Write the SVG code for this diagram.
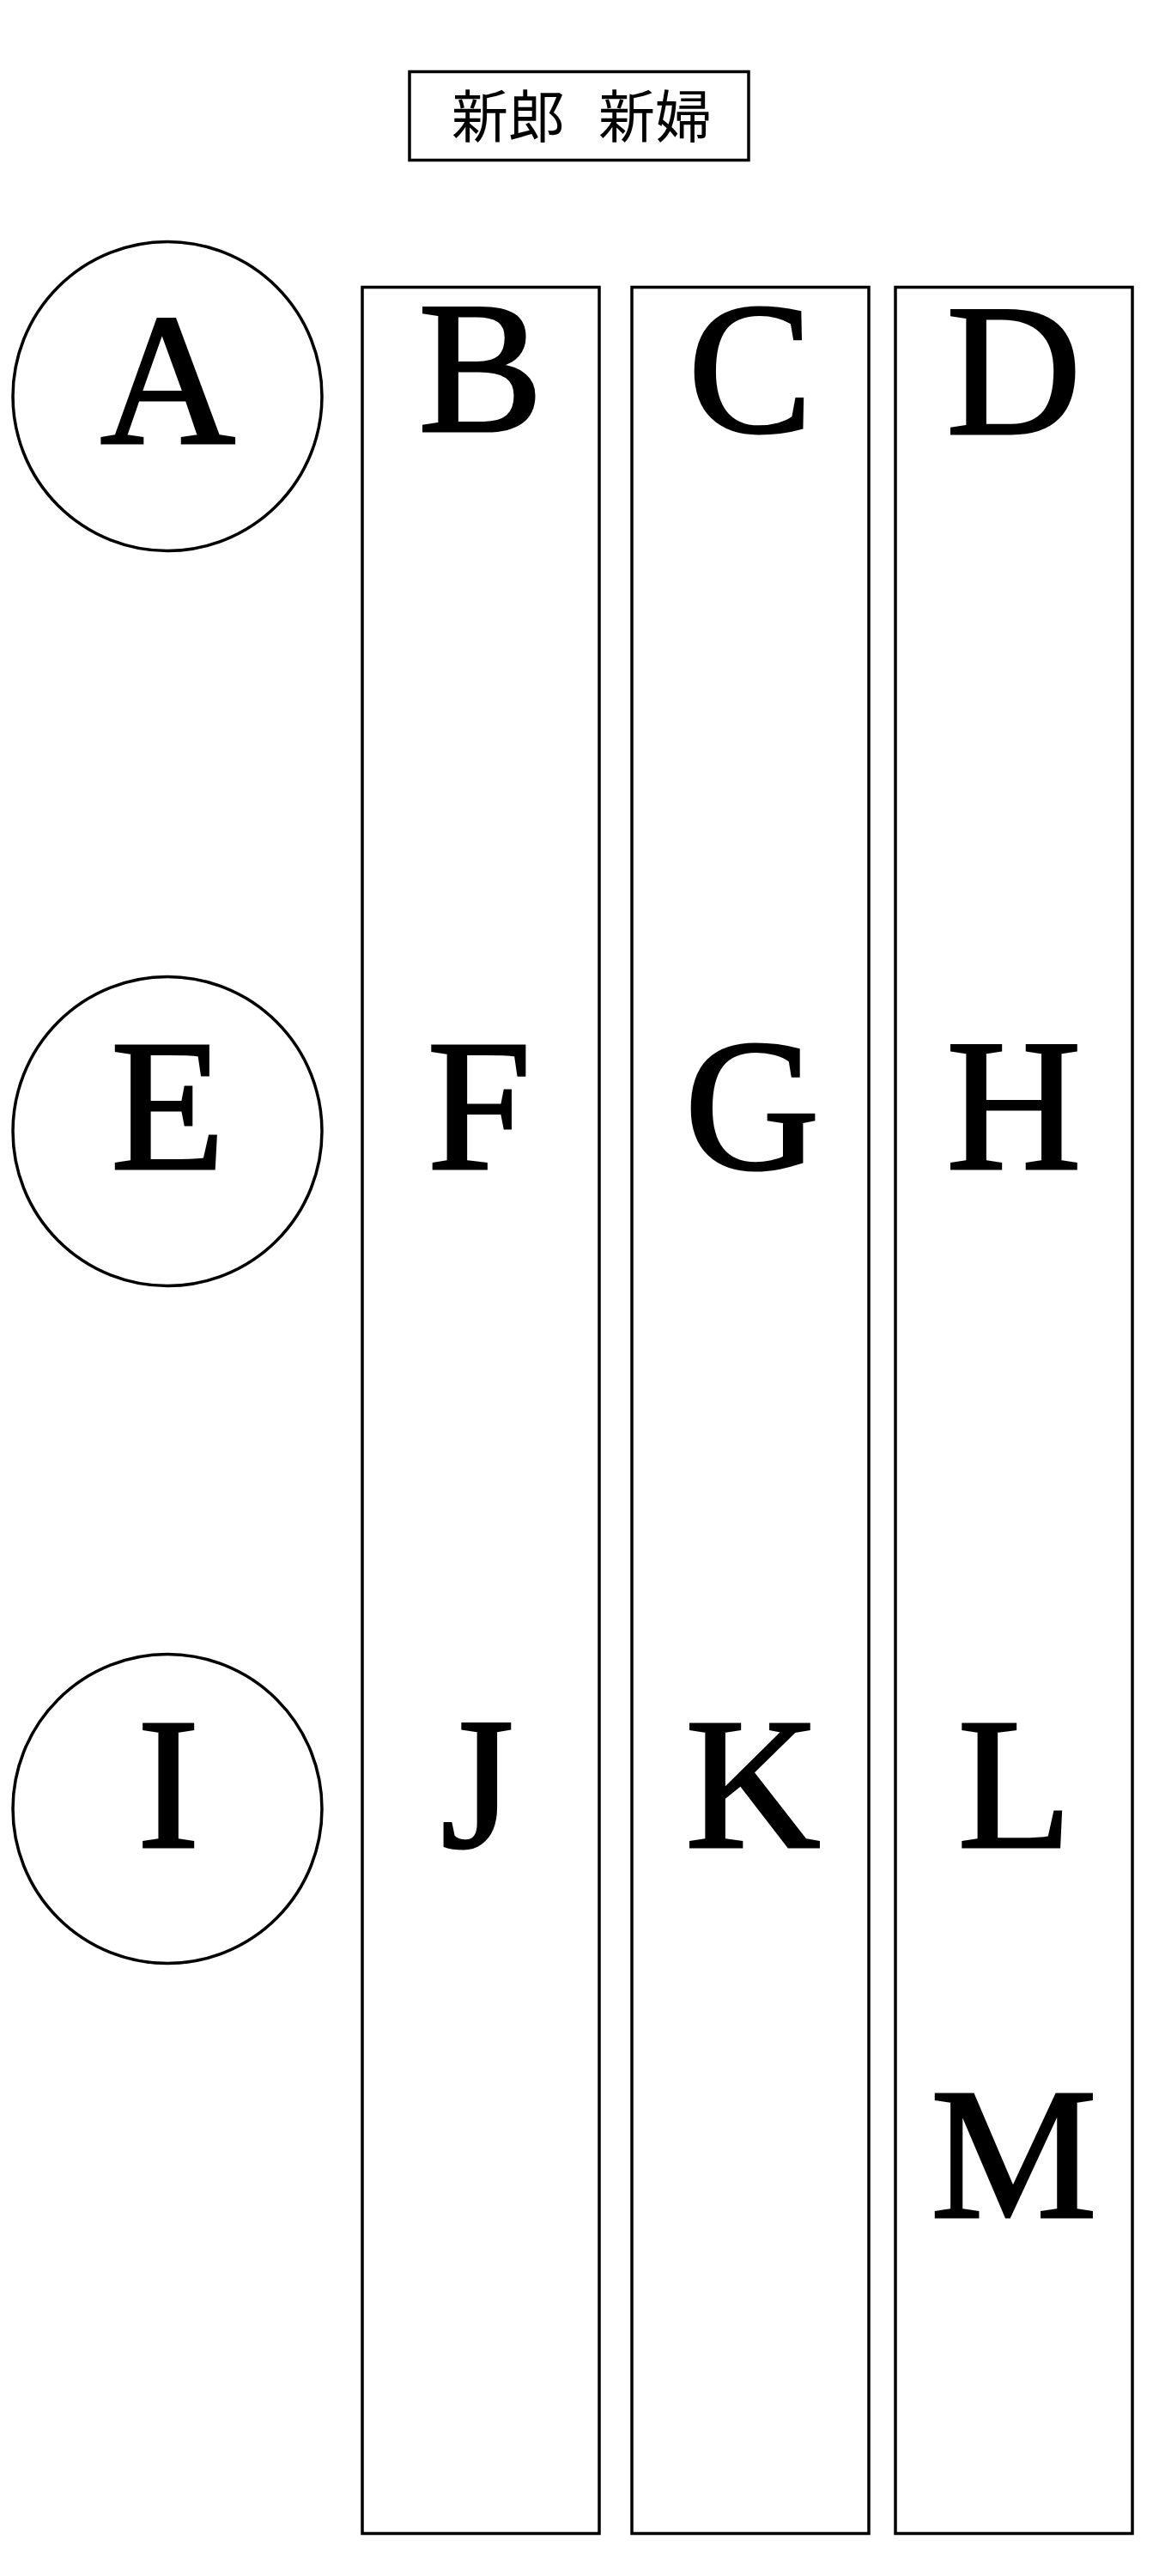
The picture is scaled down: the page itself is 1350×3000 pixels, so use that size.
<svg xmlns="http://www.w3.org/2000/svg" width="1350" height="3000" viewBox="0 0 1350 3000">
<style>
.shape{fill:#fff;stroke:#000;stroke-width:3.5}
.lbl{font-family:"Liberation Serif","Times New Roman",serif;font-size:218px;fill:#000;stroke:#000;stroke-width:3;text-anchor:middle}
.title{font-family:"Noto Sans CJK JP","Noto Sans CJK SC",sans-serif;font-size:66px;fill:#000}
</style>
<rect width="1350" height="3000" fill="#fff"/>
<g id="title">
<rect class="shape" x="477" y="83.5" width="395" height="103"/>
<text class="title" y="160"><tspan x="526">新郎</tspan><tspan x="697">新婦</tspan></text>
</g>
<g id="connectors"></g>
<g id="col-B">
<rect class="shape" x="422" y="334.5" width="276" height="2616"/>
</g>
<g id="col-C">
<rect class="shape" x="736" y="334.5" width="276" height="2616"/>
</g>
<g id="col-D">
<rect class="shape" x="1043" y="334.5" width="276" height="2616"/>
</g>
<g id="A"><circle class="shape" cx="195" cy="461.5" r="180"/><text class="lbl" x="195.5" y="516">A</text></g>
<g id="E"><circle class="shape" cx="195" cy="1317.5" r="180"/><text class="lbl" x="195.5" y="1361">E</text></g>
<g id="I"><circle class="shape" cx="195" cy="2106.5" r="180"/><text class="lbl" x="196" y="2150.5">I</text></g>
<g id="B"><text class="lbl" x="560" y="502">B</text></g>
<g id="C"><text class="lbl" x="874" y="502.5">C</text></g>
<g id="D"><text class="lbl" x="1181" y="505">D</text></g>
<g id="F"><text class="lbl" x="558" y="1361">F</text></g>
<g id="G"><text class="lbl" x="876" y="1361">G</text></g>
<g id="H"><text class="lbl" x="1181" y="1361">H</text></g>
<g id="J"><text class="lbl" x="556" y="2150.5">J</text></g>
<g id="K"><text class="lbl" x="877" y="2150.5">K</text></g>
<g id="L"><text class="lbl" x="1182" y="2150.5">L</text></g>
<g id="M"><text class="lbl" x="1181" y="2582">M</text></g>
</svg>
